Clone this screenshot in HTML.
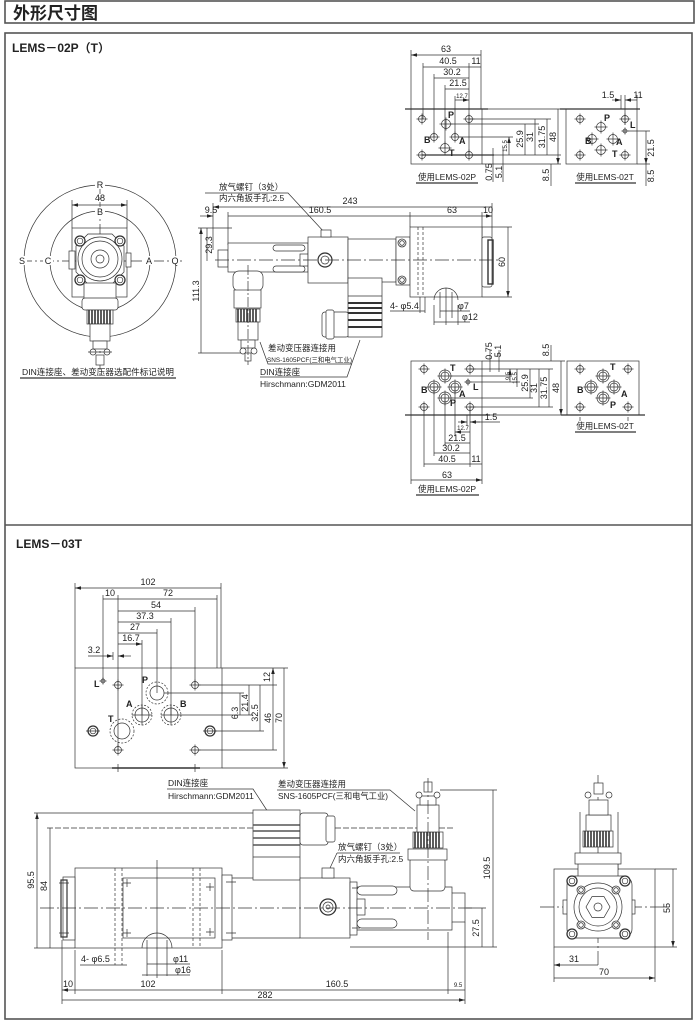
<!DOCTYPE html>
<html><head><meta charset="utf-8"><style>
html,body{margin:0;padding:0;background:#fff}
svg{display:block}
text{font-family:"Liberation Sans","Noto Sans CJK SC",sans-serif;fill:#222;font-size:9px;stroke:none}
.c{font-size:8.5px}
.s{font-size:6px}
.b{font-weight:bold}
</style></head><body>
<svg width="700" height="1033" viewBox="0 0 700 1033" xmlns="http://www.w3.org/2000/svg">
<defs>
<marker id="ar" viewBox="0 0 10 6" refX="10" refY="3" markerWidth="6" markerHeight="3.6" markerUnits="userSpaceOnUse" orient="auto-start-reverse"><path d="M0,0L10,3L0,6z" fill="#222"/></marker>
<g id="ho" fill="none" stroke="#333" stroke-width="0.7"><circle r="3.5"/><path d="M-5.5,0H5.5M0,-5.5V5.5"/></g>
<g id="hs" fill="none" stroke="#333" stroke-width="0.7"><circle r="2"/><path d="M-3.5,0H3.5M0,-3.5V3.5"/></g>
<g id="hp" fill="none" stroke="#333" stroke-width="0.7"><circle r="4.5"/><path d="M-6.5,0H6.5M0,-6.5V6.5"/></g>
<g id="hd" fill="none" stroke="#333" stroke-width="0.7"><circle r="6"/><circle r="4"/><path d="M-7.5,0H7.5M0,-7.5V7.5"/></g>
<g id="bo" fill="#fff" stroke="#333"><circle r="5" stroke-width="1.3"/><circle r="2.8" stroke-width="0.7"/></g>
<g id="bs" fill="#fff" stroke="#333" stroke-width="0.8"><circle r="4"/><circle r="2.3"/></g>
</defs>

<!-- frames -->
<rect x="5" y="1" width="689" height="22" fill="none" stroke="#555" stroke-width="1.6"/>
<text x="13" y="19" class="b" style="font-size:17px">外形尺寸图</text>
<rect x="5" y="33" width="687" height="986" fill="none" stroke="#555" stroke-width="1.6"/>
<line x1="5" y1="525" x2="692" y2="525" stroke="#555" stroke-width="1.4"/>
<text x="12" y="52" class="b" style="font-size:12px">LEMS－02P（T）</text>
<text x="16" y="548" class="b" style="font-size:12px">LEMS－03T</text>

<g fill="none" stroke="#333" stroke-width="0.7">

<!-- ===== P1: top LEMS-02P plate ===== -->
<rect x="411" y="109" width="71" height="55"/>
<path d="M411,50V109M481,50V109M423,63V119M469,63V155M434,74V137M445,85V148M455,96V137"/>
<path d="M405,109H488" stroke-width="1.3"/>
<path d="M482,109H561M482,164H561"/>
<path d="M469,119H551M451,124H539M459,137H513"/>
<path d="M422,155H494" stroke-width="1.3"/>
<path d="M494,155H561"/>
<path d="M493,148V182M503,148V182M551,164V186"/>
<g marker-start="url(#ar)" marker-end="url(#ar)">
<path d="M411,55H481M423,67H469M469,67H481M434,78H469M445,89H469M455,100H469"/>
<path d="M509,137V155M525,124V155M535,119V155M547,119V155M558,109V164"/>
</g>
<use href="#ho" x="422" y="119"/><use href="#ho" x="469" y="119"/>
<use href="#ho" x="422" y="155"/><use href="#ho" x="469" y="155"/>
<use href="#hp" x="446" y="124"/><use href="#ho" x="434" y="137"/>
<use href="#ho" x="455" y="137"/><use href="#hp" x="445" y="148"/>
<path d="M416,183H478" stroke-width="1.2"/>

<!-- ===== P2: top LEMS-02T plate ===== -->
<rect x="566" y="109" width="71" height="55"/>
<path d="M560,109H640" stroke-width="1.3"/>
<path d="M621,95V109M625,95V125M637,95V109"/>
<path d="M628,131H650M637,164H650"/>
<g marker-start="url(#ar)" marker-end="url(#ar)">
<path d="M625,100H637M646,131V164"/>
</g>
<path d="M612,100H621" marker-end="url(#ar)"/>
<path d="M646,164V186"/>
<use href="#ho" x="580" y="119"/><use href="#ho" x="625" y="119"/>
<use href="#ho" x="580" y="155"/><use href="#ho" x="625" y="155"/>
<use href="#hp" x="601" y="127"/><use href="#hp" x="592" y="139"/>
<use href="#hp" x="613" y="139"/><use href="#hp" x="601" y="150"/>
<use href="#hs" x="625" y="131"/>
<path d="M575,183H636" stroke-width="1.2"/>

<!-- ===== C1: circular end view ===== -->
<circle cx="100" cy="261" r="76"/>
<circle cx="100" cy="261" r="50"/>
<path d="M18,261H182M100,180V378" stroke-dasharray="14,3,2,3"/>
<path d="M72,200V228M127,200V228"/>
<path d="M72,205H127" marker-start="url(#ar)" marker-end="url(#ar)"/>
<rect x="72" y="228" width="55" height="69" fill="#fff"/>
<path d="M100,228V297M72,261H127" stroke-dasharray="10,2,2,2"/>
<rect x="69" y="251" width="6" height="18" fill="#fff"/>
<rect x="126" y="253" width="5" height="14" fill="#fff"/>
<polygon points="88,234 112,234 124,246 124,272 112,284 88,284 76,272 76,246" fill="#fff"/>
<circle cx="100" cy="259" r="22" fill="#fff"/>
<circle cx="100" cy="259" r="18"/>
<circle cx="100" cy="259" r="9"/>
<circle cx="100" cy="259" r="4"/>
<use href="#bo" x="80" y="241"/><use href="#bo" x="120" y="241"/>
<use href="#bo" x="80" y="280"/><use href="#bo" x="120" y="280"/>
<rect x="84" y="283" width="32" height="16" fill="#fff"/>
<rect x="82" y="298" width="36" height="12" rx="3" fill="#fff"/>
<rect x="87" y="310" width="26" height="14" fill="#fff"/>
<path d="M89,310V324M92,310V324M95,310V324M98,310V324M101,310V324M104,310V324M107,310V324M110,310V324" stroke-width="1.6"/>
<rect x="90" y="324" width="20" height="17" fill="#fff"/>
<rect x="93" y="341" width="14" height="8" fill="#fff"/>
<circle cx="93" cy="352" r="3" fill="#fff"/><circle cx="107" cy="352" r="3" fill="#fff"/>
<path d="M88,352H112"/>
<rect x="96" y="355" width="8" height="10" fill="#fff"/>
<path d="M20,378H176" stroke-width="1.2"/>

<!-- ===== V1: side view (02) ===== -->
<path d="M205,193H288L325,233"/>
<path d="M213,203V250M228,212V245M410,212V227M482,212V240M492,203V240"/>
<g marker-start="url(#ar)" marker-end="url(#ar)">
<path d="M213,207H492M228,216H410M410,216H482M482,216H492"/>
<path d="M201,228V353M207,228V261M508,227V297"/>
</g>
<path d="M200,216H213" marker-end="url(#ar)"/>
<path d="M198,228H232M198,353H245M482,227H512M482,297H512"/>
<!-- left tube -->
<rect x="218" y="250" width="10" height="17" fill="#fff"/>
<rect x="228" y="243" width="80" height="29" fill="#fff"/>
<rect x="273" y="245" width="32" height="6" rx="3" fill="#fff"/>
<rect x="273" y="266" width="32" height="6" rx="3" fill="#fff"/>
<rect x="300" y="254" width="8" height="12" fill="#fff"/>
<!-- center block -->
<rect x="308" y="237" width="40" height="46" fill="#fff"/>
<rect x="321" y="230" width="10" height="7" fill="#fff"/>
<circle cx="325" cy="260" r="7" stroke-width="1.2"/>
<circle cx="325" cy="260" r="4"/>
<!-- solenoid neck -->
<rect x="348" y="239" width="48" height="43" fill="#fff"/>
<rect x="396" y="237" width="14" height="48" fill="#fff"/>
<use href="#bs" x="402" y="243"/><use href="#bs" x="402" y="280"/>
<!-- main box -->
<rect x="410" y="227" width="72" height="70" fill="#fff"/>
<path d="M418,227V297M423,227V297" stroke-dasharray="3,2"/>
<rect x="482" y="237" width="10" height="50" rx="2" fill="#fff"/>
<rect x="488" y="240" width="5" height="44" stroke-width="1.4"/>
<path d="M215,260H500" stroke-dasharray="14,3,2,3"/>
<path d="M434,300A12,12 0 0 1 458,300"/>
<path d="M440,292V318M452,292V318M446,288V325"/>
<path d="M420,297V313M425,297V313M434,305V325M458,305V325"/>
<path d="M390,311H425M440,311H470M434,322H470"/>
<!-- DIN connector -->
<rect x="322" y="312" width="27" height="25" rx="3" fill="#fff"/>
<rect x="326" y="310" width="8" height="29" rx="2" fill="#fff"/>
<rect x="348" y="278" width="34" height="59" fill="#fff"/>
<path d="M348,296H382"/>
<path d="M348,303H382M348,308H382M348,313H382M348,320H382M348,327H382" stroke-width="2"/>
<path d="M360,340L347,377H260"/>
<!-- transformer connector -->
<rect x="233" y="271" width="30" height="20" rx="6" fill="#fff"/>
<rect x="234" y="290" width="27" height="18" fill="#fff"/>
<rect x="236" y="309" width="24" height="13" fill="#fff"/>
<path d="M238,309V322M241,309V322M244,309V322M247,309V322M250,309V322M253,309V322M256,309V322" stroke-width="1.6"/>
<rect x="238" y="322" width="20" height="18" fill="#fff"/>
<rect x="241" y="340" width="14" height="8" fill="#fff"/>
<circle cx="243" cy="351" r="3" fill="#fff"/><circle cx="254" cy="351" r="3" fill="#fff"/>
<rect x="245" y="353" width="6" height="8" fill="#fff"/>
<path d="M248,265V365" stroke-dasharray="10,2,2,2"/>
<path d="M260,342L268,364H352"/>

<!-- ===== P3: lower LEMS-02P plate ===== -->
<rect x="411" y="361" width="71" height="54"/>
<path d="M405,415H490" stroke-width="1.3"/>
<path d="M411,415V484M482,415V484M424,407V467M434,387V456M445,398V446M455,387V436M467,415V426M470,407V467"/>
<g marker-start="url(#ar)" marker-end="url(#ar)">
<path d="M455,432H470M445,443H470M434,453H470M424,464H470M470,464H482M411,480H482"/>
<path d="M510,369V382M517,369V387M530,369V398M539,369V407M549,369V407M561,361V415"/>
</g>
<path d="M458,422H467" marker-end="url(#ar)"/><path d="M480,422H470" marker-end="url(#ar)"/>
<path d="M470,422H500"/>
<path d="M470,369H553M451,376H512M471,382H520M451,398H533M470,407H553M482,361H565M482,415H565"/>
<path d="M490,350V372M499,350V372M551,345V361"/>
<use href="#ho" x="424" y="369"/><use href="#ho" x="470" y="369"/>
<use href="#ho" x="424" y="407"/><use href="#ho" x="470" y="407"/>
<use href="#hd" x="445" y="376"/><use href="#hd" x="434" y="387"/>
<use href="#hd" x="455" y="387"/><use href="#hd" x="445" y="398"/>
<use href="#hs" x="468" y="382"/>
<path d="M416,495H479" stroke-width="1.2"/>

<!-- ===== P4: lower LEMS-02T plate ===== -->
<rect x="567" y="361" width="72" height="54"/>
<path d="M561,415H645" stroke-width="1.3"/>
<path d="M580,417V421M628,417V421"/>
<use href="#ho" x="580" y="369"/><use href="#ho" x="628" y="369"/>
<use href="#ho" x="580" y="407"/><use href="#ho" x="628" y="407"/>
<use href="#hd" x="603" y="376"/><use href="#hd" x="591" y="387"/>
<use href="#hd" x="614" y="387"/><use href="#hd" x="603" y="398"/>
<path d="M575,432H636" stroke-width="1.2"/>

<!-- ===== P5: LEMS-03T plate ===== -->
<rect x="75" y="668" width="147" height="100"/>
<path d="M75,583V668M221,583V668M103,595V680M118,595V750M217,595V668M195,607V685M171,618V715M157,629V693M142,640V715"/>
<g marker-start="url(#ar)" marker-end="url(#ar)">
<path d="M75,588H221M103,599H118M118,599H217M118,611H195M118,622H171M118,633H157M118,644H142"/>
<path d="M273,668V685M240,693V715M249,685V715M260,685V731M273,685V750M284,668V768"/>
</g>
<path d="M88,656H113" marker-end="url(#ar)"/><path d="M131,656H118" marker-end="url(#ar)"/>
<path d="M113,652V660"/>
<path d="M199,685H277M164,693H244M180,715H253M214,731H264M199,750H277M222,668H288M222,768H288"/>
<path d="M112,768H200" stroke-width="1.4"/>
<path d="M118,764V772M195,764V772"/>
<use href="#ho" x="118" y="685"/><use href="#ho" x="195" y="685"/>
<use href="#hs" x="103" y="681"/>
<use href="#ho" x="118" y="750"/><use href="#ho" x="195" y="750"/>
<g stroke-dasharray="2,1.5"><circle cx="157" cy="693" r="11"/><circle cx="142" cy="715" r="10"/><circle cx="171" cy="715" r="10"/><circle cx="122" cy="731" r="12"/></g>
<circle cx="157" cy="693" r="7"/>
<circle cx="142" cy="715" r="7"/><path d="M132,715H152M142,705V725"/>
<circle cx="171" cy="715" r="7"/><path d="M161,715H181M171,705V725"/>
<circle cx="122" cy="731" r="8"/>
<use href="#bo" x="93" y="731"/><use href="#bo" x="210" y="731"/>
<path d="M86,731H100M203,731H217"/>

<!-- ===== V2: side view (03) ===== -->
<path d="M167,789H253L268,812"/>
<path d="M277,790H390L415,811"/>
<g marker-start="url(#ar)" marker-end="url(#ar)">
<path d="M37,813V948M50,828V948M493,790V947M482,908V947M673,869V947"/>
<path d="M62,990H75M75,990H222M222,990H448M448,990H465M62,1000H465"/>
</g>
<path d="M34,813H258M34,948H75M440,790H497M350,947H497M466,908H486"/>
<path d="M47,828H455" stroke-dasharray="6,2"/>
<path d="M62,940V1004M75,950V994M222,950V994M448,932V994M465,922V1004"/>
<!-- solenoid box -->
<rect x="75" y="868" width="147" height="80" fill="#fff"/>
<rect x="123" y="878" width="92" height="60"/>
<path d="M115,868V965M122,868V965M193,868V948M200,868V948" stroke-dasharray="3,2"/>
<path d="M123,883h8M127,879v8M123,933h8M127,929v8M206,887h8M210,883v8M206,932h8M210,928v8"/>
<rect x="63" y="877" width="12" height="63" fill="#fff"/>
<rect x="61" y="880" width="6" height="57" stroke-width="1.2"/>
<path d="M59,883h10M59,933h10"/>
<rect x="222" y="875" width="10" height="65" fill="#fff"/>
<path d="M226,882h10M226,933h10"/>
<path d="M232,878H300M232,938H300M232,908"/>
<path d="M142,948A15,15 0 0 1 172,948"/>
<path d="M147,940V976M167,940V976M157,860V978"/>
<path d="M80,965H127M147,964H190M142,975H190"/>
<!-- DIN connector -->
<rect x="253" y="810" width="47" height="70" fill="#fff"/>
<path d="M253,825H300M253,831H300M253,838H300M253,845H300" stroke-width="1.5" stroke="#555"/>
<path d="M253,857H300"/>
<rect x="300" y="813" width="28" height="32" rx="3" fill="#fff"/>
<rect x="326" y="816" width="9" height="26" rx="2" fill="#fff"/>
<!-- center block -->
<rect x="300" y="878" width="50" height="60" fill="#fff"/>
<rect x="322" y="868" width="12" height="10" fill="#fff"/>
<circle cx="328" cy="907" r="8" stroke-width="1.3"/>
<circle cx="328" cy="907" r="5"/>
<circle cx="328" cy="907" r="2"/>
<rect x="350" y="882" width="7" height="53" fill="#fff"/>
<path d="M352,888h8M352,928h8"/>
<!-- right tube & transformer -->
<path d="M357,887H410M445,887H452V893M357,930H452V922" />
<rect x="357" y="886" width="40" height="9" rx="4.5" fill="#fff"/>
<rect x="357" y="919" width="40" height="9" rx="4.5" fill="#fff"/>
<rect x="357" y="899" width="8" height="16" fill="#fff"/>
<rect x="452" y="893" width="13" height="29" fill="#fff"/>
<rect x="410" y="857" width="35" height="34" rx="4" fill="#fff"/>
<rect x="408" y="849" width="39" height="11" fill="#fff"/>
<rect x="413" y="832" width="30" height="16" fill="#fff"/>
<path d="M415,832V848M418,832V848M421,832V848M424,832V848M427,832V848M430,832V848M433,832V848M436,832V848M439,832V848" stroke-width="1.6"/>
<rect x="417" y="805" width="22" height="27" fill="#fff"/>
<rect x="420" y="796" width="16" height="9" fill="#fff"/>
<circle cx="419" cy="795" r="3" fill="#fff"/><circle cx="437" cy="795" r="3" fill="#fff"/>
<rect x="424" y="782" width="8" height="10" fill="#fff"/>
<path d="M428,778V940M40,908H475" stroke-dasharray="14,3,2,3"/>

<!-- ===== V3: end view (03) ===== -->
<rect x="554" y="869" width="101" height="78"/>
<path d="M598,775V968M540,907H670" stroke-dasharray="14,3,2,3"/>
<path d="M655,869H677M655,947H677M554,947V982M655,947V982"/>
<path d="M580,812V870M618,812V870"/>
<rect x="578" y="860" width="40" height="20" fill="#fff"/>
<rect x="575" y="853" width="46" height="11" fill="#fff"/>
<rect x="583" y="831" width="30" height="16" fill="#fff"/>
<path d="M585,831V847M588,831V847M591,831V847M594,831V847M597,831V847M600,831V847M603,831V847M606,831V847M609,831V847" stroke-width="1.6"/>
<rect x="586" y="815" width="25" height="16" fill="#fff"/>
<rect x="589" y="800" width="19" height="15" fill="#fff"/>
<circle cx="588" cy="795" r="3" fill="#fff"/><circle cx="609" cy="795" r="3" fill="#fff"/>
<rect x="594" y="783" width="9" height="11" fill="#fff"/>
<rect x="563" y="900" width="6" height="14" fill="#fff"/>
<rect x="629" y="900" width="6" height="14" fill="#fff"/>
<rect x="567" y="876" width="65" height="62" rx="9" fill="#fff"/>
<circle cx="598" cy="907" r="24"/>
<circle cx="598" cy="907" r="19"/>
<polygon points="610,907 604,917.4 592,917.4 586,907 592,896.6 604,896.6"/>
<circle cx="598" cy="907" r="4"/>
<use href="#bo" x="572" y="881"/><use href="#bo" x="625" y="881"/>
<use href="#bo" x="572" y="934"/><use href="#bo" x="625" y="934"/>
<use href="#bs" x="581" y="890"/><use href="#bs" x="616" y="890"/>
<use href="#bs" x="581" y="925"/><use href="#bs" x="616" y="925"/>
<g marker-start="url(#ar)" marker-end="url(#ar)"><path d="M554,965H598M554,978H655"/></g>
</g>

<!-- ===== TEXT ===== -->
<!-- P1 -->
<g text-anchor="middle">
<text x="446" y="52">63</text>
<text x="448" y="64">40.5</text><text x="476" y="64">11</text>
<text x="452" y="75">30.2</text>
<text x="458" y="86">21.5</text>
<text x="462" y="98" class="s">12.7</text>
</g>
<text x="448" y="118" class="b">P</text>
<text x="424" y="143" class="b">B</text>
<text x="459" y="144" class="b">A</text>
<text x="449" y="156" class="b">T</text>
<g text-anchor="middle">
<text transform="translate(507,146) rotate(-90)" class="s">15.5</text>
<text transform="translate(523,139) rotate(-90)">25.9</text>
<text transform="translate(533,137) rotate(-90)">31</text>
<text transform="translate(545,137) rotate(-90)">31.75</text>
<text transform="translate(556,137) rotate(-90)">48</text>
<text transform="translate(492,172) rotate(-90)">0.75</text>
<text transform="translate(502,172) rotate(-90)">5.1</text>
<text transform="translate(549,175) rotate(-90)">8.5</text>
<text x="447" y="180" class="c">使用LEMS-02P</text>
</g>
<!-- P2 -->
<text x="608" y="98" text-anchor="middle">1.5</text>
<text x="638" y="98" text-anchor="middle">11</text>
<text x="604" y="121" class="b">P</text>
<text x="585" y="144" class="b">B</text>
<text x="616" y="145" class="b">A</text>
<text x="612" y="157" class="b">T</text>
<text x="630" y="128" class="b">L</text>
<g text-anchor="middle">
<text transform="translate(654,148) rotate(-90)">21.5</text>
<text transform="translate(654,176) rotate(-90)">8.5</text>
<text x="605" y="180" class="c">使用LEMS-02T</text>
</g>
<!-- C1 -->
<g text-anchor="middle">
<rect x="95" y="180" width="10" height="9" fill="#fff"/>
<text x="100" y="188">R</text>
<text x="100" y="201">48</text>
<rect x="95" y="207" width="10" height="9" fill="#fff"/>
<text x="100" y="215">B</text>
<rect x="17" y="256" width="10" height="9" fill="#fff"/>
<text x="22" y="264">S</text>
<rect x="43" y="256" width="10" height="9" fill="#fff"/>
<text x="48" y="264">C</text>
<rect x="144" y="256" width="10" height="9" fill="#fff"/>
<text x="149" y="264">A</text>
<rect x="170" y="256" width="10" height="9" fill="#fff"/>
<text x="175" y="264">Q</text>
</g>
<text x="22" y="375" class="c" textLength="152" lengthAdjust="spacingAndGlyphs">DIN连接座、差动变压器选配件标记说明</text>
<!-- V1 -->
<text x="219" y="190" class="c">放气螺钉（3处）</text>
<text x="219" y="201" class="c">内六角扳手孔:2.5</text>
<g text-anchor="middle">
<text x="350" y="204">243</text>
<text x="211" y="213">9.5</text>
<text x="320" y="213">160.5</text>
<text x="452" y="213">63</text>
<text x="488" y="213">10</text>
<text transform="translate(212,245) rotate(-90)">29.3</text>
<text transform="translate(199,291) rotate(-90)">111.3</text>
<text transform="translate(505,262) rotate(-90)">60</text>
</g>
<text x="390" y="309">4- φ5.4</text>
<text x="458" y="309">φ7</text>
<text x="462" y="320">φ12</text>
<text x="268" y="351" class="c">差动变压器连接用</text>
<text x="267" y="362" style="font-size:6.5px" textLength="85" lengthAdjust="spacingAndGlyphs">SNS-1605PCF(三和电气工业)</text>
<text x="260" y="375" class="c">DIN连接座</text>
<text x="260" y="387" class="c">Hirschmann:GDM2011</text>
<!-- P3 -->
<text x="450" y="371" class="b">T</text>
<text x="421" y="393" class="b">B</text>
<text x="459" y="397" class="b">A</text>
<text x="450" y="406" class="b">P</text>
<text x="473" y="390" class="b">L</text>
<g text-anchor="middle">
<text transform="translate(492,351) rotate(-90)">0.75</text>
<text transform="translate(501,351) rotate(-90)">5.1</text>
<text transform="translate(549,350) rotate(-90)">8.5</text>
<text transform="translate(510,376) rotate(-90)" class="s">9.5</text>
<text transform="translate(517,378) rotate(-90)" class="s">15.5</text>
<text transform="translate(528,383) rotate(-90)">25.9</text>
<text transform="translate(537,388) rotate(-90)">31</text>
<text transform="translate(547,388) rotate(-90)">31.75</text>
<text transform="translate(559,388) rotate(-90)">48</text>
<text x="491" y="420">1.5</text>
<text x="463" y="430" class="s">12.7</text>
<text x="457" y="441">21.5</text>
<text x="451" y="451">30.2</text>
<text x="447" y="462">40.5</text>
<text x="476" y="462">11</text>
<text x="447" y="478">63</text>
<text x="447" y="492" class="c">使用LEMS-02P</text>
</g>
<!-- P4 -->
<text x="610" y="370" class="b">T</text>
<text x="577" y="393" class="b">B</text>
<text x="621" y="397" class="b">A</text>
<text x="610" y="408" class="b">P</text>
<text x="605" y="429" class="c" text-anchor="middle">使用LEMS-02T</text>
<!-- P5 -->
<g text-anchor="middle">
<text x="148" y="585">102</text>
<text x="110" y="596">10</text>
<text x="168" y="596">72</text>
<text x="156" y="608">54</text>
<text x="145" y="619">37.3</text>
<text x="135" y="630">27</text>
<text x="131" y="641">16.7</text>
<text x="94" y="653">3.2</text>
<text transform="translate(270,677) rotate(-90)">12</text>
<text transform="translate(238,713) rotate(-90)">6.3</text>
<text transform="translate(248,703) rotate(-90)">21.4</text>
<text transform="translate(258,713) rotate(-90)">32.5</text>
<text transform="translate(271,718) rotate(-90)">46</text>
<text transform="translate(282,718) rotate(-90)">70</text>
</g>
<text x="94" y="687" class="b">L</text>
<text x="142" y="683" class="b">P</text>
<text x="126" y="707" class="b">A</text>
<text x="180" y="707" class="b">B</text>
<text x="108" y="722" class="b">T</text>
<!-- V2 -->
<text x="168" y="786" class="c">DIN连接座</text>
<text x="168" y="799" class="c">Hirschmann:GDM2011</text>
<text x="278" y="787" class="c">差动变压器连接用</text>
<text x="278" y="799" class="c" textLength="110" lengthAdjust="spacingAndGlyphs">SNS-1605PCF(三和电气工业)</text>
<text x="338" y="850" class="c">放气螺钉（3处）</text>
<text x="338" y="862" class="c">内六角扳手孔:2.5</text>
<path d="M337,853H400M337,853L330,868" fill="none" stroke="#333" stroke-width="0.7"/>
<g text-anchor="middle">
<text transform="translate(34,880) rotate(-90)">95.5</text>
<text transform="translate(47,886) rotate(-90)">84</text>
<text transform="translate(490,868) rotate(-90)">109.5</text>
<text transform="translate(479,928) rotate(-90)">27.5</text>
<text x="68" y="987">10</text>
<text x="148" y="987">102</text>
<text x="337" y="987">160.5</text>
<text x="458" y="987" class="s">9.5</text>
<text x="265" y="998">282</text>
</g>
<text x="81" y="962">4- φ6.5</text>
<text x="173" y="962">φ11</text>
<text x="175" y="973">φ16</text>
<!-- V3 -->
<g text-anchor="middle">
<text transform="translate(670,908) rotate(-90)">55</text>
<text x="574" y="962">31</text>
<text x="604" y="975">70</text>
</g>
</svg>
</body></html>
